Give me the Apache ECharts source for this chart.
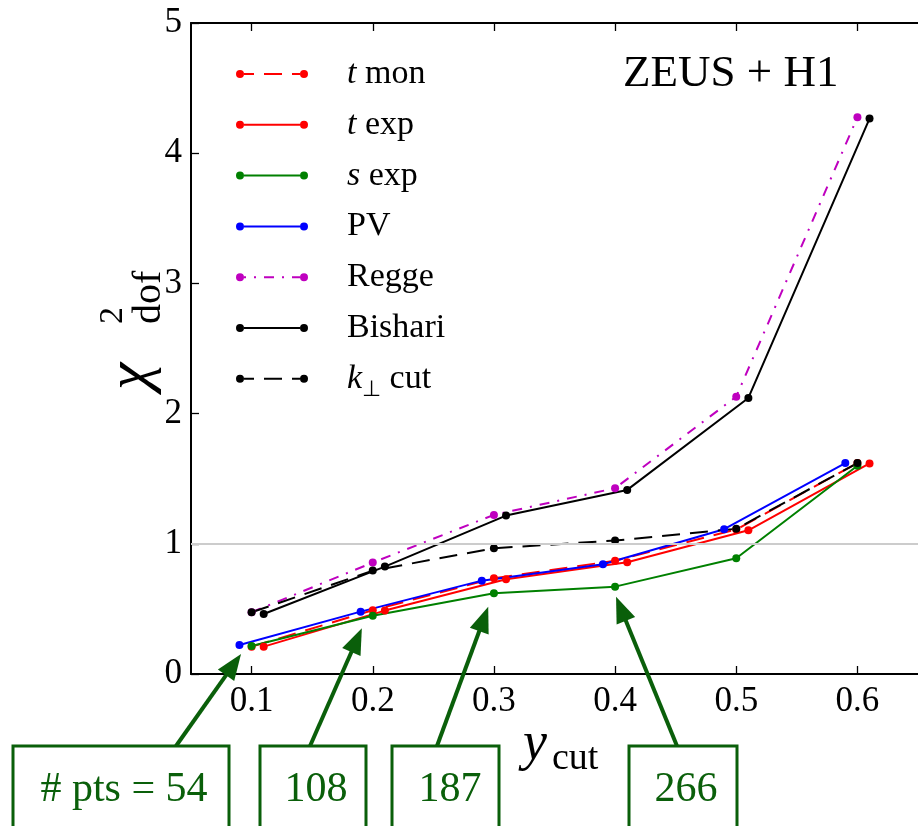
<!DOCTYPE html>
<html>
<head>
<meta charset="utf-8">
<script src="https://cdn.jsdelivr.net/npm/echarts@6/dist/echarts.min.js"></script>
<style>
  html, body { margin: 0; padding: 0; background: #ffffff; }
  #chart { width: 918px; height: 826px; }
</style>
</head>
<body>
<div id="chart"></div>
<script>
// y_cut positions; some models are shifted slightly left/right so the points do not overlap
const xTicks = [0.1, 0.2, 0.3, 0.4, 0.5, 0.6];
const xBase  = [0.1, 0.2, 0.3, 0.4, 0.5, 0.6];
const xLeft  = [0.09, 0.19, 0.29, 0.39, 0.49, 0.59];
const xRight = [0.11, 0.21, 0.31, 0.41, 0.51, 0.61];

// chi^2 per degree of freedom for each model
const tMon    = [0.21, 0.49, 0.735, 0.87, 1.11, 1.62];
const tExp    = [0.21, 0.487, 0.728, 0.858, 1.104, 1.617];
const sExp    = [0.215, 0.448, 0.62, 0.671, 0.889, 1.60];
const pv      = [0.223, 0.479, 0.717, 0.843, 1.112, 1.62];
const regge   = [0.474, 0.856, 1.222, 1.427, 2.13, 4.276];
const bishari = [0.461, 0.825, 1.217, 1.414, 2.12, 4.266];
const kPerp   = [0.474, 0.794, 0.966, 1.025, 1.115, 1.62];

const seriesNames = ['t mon', 't exp', 's exp', 'PV', 'Regge', 'Bishari', 'k⊥ cut'];
const refLevel = 1;

// number of data points used at each cut
const ptsLabels = ['# pts = 54', '108', '187', '266'];

const FONT = "'Liberation Serif', 'Times New Roman', serif";
const GREEN = '#0a5f0a';

const pairs = (xs, ys) => xs.map((x, i) => [x, ys[i]]);

const styles = [
  { x: xBase,  y: tMon,    color: '#ff0000', dash: [18, 10] },
  { x: xRight, y: tExp,    color: '#ff0000', dash: null },
  { x: xBase,  y: sExp,    color: '#008000', dash: null },
  { x: xLeft,  y: pv,      color: '#0000ff', dash: null },
  { x: xBase,  y: regge,   color: '#bf00bf', dash: [10, 8, 2, 8] },
  { x: xRight, y: bishari, color: '#000000', dash: null },
  { x: xBase,  y: kPerp,   color: '#000000', dash: [18, 10] }
];

// legend glyph: a short line segment with a dot at each end (72 x 8 box)
function legendIcon(dash) {
  let p = 'M0,4a4,4 0 1,0 8,0a4,4 0 1,0 -8,0Z M64,4a4,4 0 1,0 8,0a4,4 0 1,0 -8,0Z';
  const segs = [];
  if (!dash) {
    segs.push([8, 64]);
  } else {
    let pos = 0, k = 0, on = true;
    while (pos < 68) {
      const len = dash[k % dash.length];
      if (on) {
        const a = Math.max(pos, 8), b = Math.min(pos + len, 64);
        if (b > a) segs.push([a, b]);
      }
      pos += len; k++; on = !on;
    }
  }
  segs.forEach(([a, b]) => {
    p += ` M${a},3 L${b},3 L${b},5 L${a},5 Z`;
  });
  return 'path://' + p;
}

const legendRich = {
  'it':  { fontFamily: FONT, fontSize: 34, fontStyle: 'italic', lineHeight: 44, color: '#000' },
  'sub': { fontFamily: FONT, fontSize: 22, lineHeight: 22, verticalAlign: 'bottom', color: '#000' }
};
function legendText(name) {
  switch (name) {
    case 't mon': return '{it|t} mon';
    case 't exp': return '{it|t} exp';
    case 's exp': return '{it|s} exp';
    case 'k⊥ cut': return '{it|k}{sub|⊥} cut';
    default: return name;
  }
}

const series = styles.map((s, i) => ({
  name: seriesNames[i],
  type: 'line',
  data: pairs(s.x, s.y),
  symbol: 'circle',
  symbolSize: 8,
  showAllSymbol: true,
  z: 3,
  itemStyle: { color: s.color, borderWidth: 0 },
  lineStyle: { color: s.color, width: 2, type: s.dash ? s.dash : 'solid' },
  emphasis: { disabled: true }
}));

// light horizontal guide at chi^2 = 1
series.unshift({
  type: 'line',
  data: [],
  z: 1,
  silent: true,
  markLine: {
    silent: true,
    symbol: 'none',
    label: { show: false },
    lineStyle: { color: '#cccccc', width: 2, type: 'solid' },
    data: [{ yAxis: refLevel }]
  }
});

const axisLineStyle = { color: '#000', width: 2 };
const xAxisCommon = {
  type: 'value',
  min: 0.05,
  max: 0.65,
  splitLine: { show: false },
  axisLine: { show: true, onZero: false, lineStyle: axisLineStyle },
  axisTick: { show: true, inside: true, length: 8, customValues: xTicks, lineStyle: { color: '#000', width: 1.3 } }
};

const chart = echarts.init(document.getElementById('chart'), null, { renderer: 'canvas' });

chart.setOption({
  animation: false,
  backgroundColor: '#ffffff',
  grid: { left: 191, right: -12, top: 23, bottom: 152, containLabel: false },
  xAxis: [
    Object.assign({}, xAxisCommon, {
      position: 'bottom',
      axisLabel: {
        customValues: xTicks,
        formatter: v => v.toFixed(1),
        fontFamily: FONT, fontSize: 35, color: '#000', margin: 10
      }
    }),
    Object.assign({}, xAxisCommon, {
      position: 'top',
      axisLabel: { show: false }
    })
  ],
  yAxis: {
    type: 'value',
    min: 0,
    max: 5,
    interval: 1,
    splitLine: { show: false },
    axisLine: { show: true, onZero: false, lineStyle: axisLineStyle },
    axisTick: { show: true, inside: true, length: 8, lineStyle: { color: '#000', width: 1.3 } },
    axisLabel: { fontFamily: FONT, fontSize: 35, color: '#000', margin: 9 }
  },
  legend: {
    orient: 'vertical',
    left: 231,
    top: 47,
    itemWidth: 72,
    itemHeight: 8,
    itemGap: 6.8,
    selectedMode: false,
    itemStyle: { borderWidth: 0 },
    data: seriesNames.map((n, i) => ({ name: n, icon: legendIcon(styles[i].dash) })),
    formatter: legendText,
    textStyle: {
      fontFamily: FONT, fontSize: 34, lineHeight: 44, color: '#000',
      padding: [0, 0, 0, 34],
      rich: legendRich
    }
  },
  series: series
});

// annotations: axis titles, data-set label, boxes with arrows
const boxes = [
  { left: 13,  right: 229, textX: 124, arrowFrom: 176, tip: [0.0913, 0.154] },
  { left: 260, right: 366, textX: 316, arrowFrom: 310, tip: [0.191, 0.351] },
  { left: 392, right: 499, textX: 450, arrowFrom: 437, tip: [0.2953, 0.517] },
  { left: 629, right: 737, textX: 686, arrowFrom: 677, tip: [0.4008, 0.594] }
];
const boxTop = 746;

const graphics = [];

boxes.forEach((b, i) => {
  const tip = chart.convertToPixel({ gridIndex: 0 }, b.tip);
  const sx = b.arrowFrom, sy = boxTop;
  const dx = tip[0] - sx, dy = tip[1] - sy;
  const L = Math.hypot(dx, dy);
  const ux = dx / L, uy = dy / L;
  const head = 26, half = 10;
  const bx = tip[0] - ux * head, by = tip[1] - uy * head;
  graphics.push({
    type: 'line', z: 10,
    shape: { x1: sx, y1: sy, x2: bx + ux * 2, y2: by + uy * 2 },
    style: { stroke: GREEN, lineWidth: 4 }
  });
  graphics.push({
    type: 'polygon', z: 10,
    shape: { points: [tip, [bx - uy * half, by + ux * half], [bx + uy * half, by - ux * half]] },
    style: { fill: GREEN }
  });
  graphics.push({
    type: 'rect', z: 11,
    shape: { x: b.left, y: boxTop, width: b.right - b.left, height: 120 },
    style: { fill: '#ffffff', stroke: GREEN, lineWidth: 3 }
  });
  graphics.push({
    type: 'text', z: 12,
    x: b.textX, y: 790,
    style: { text: ptsLabels[i], font: `42px ${FONT}`, fill: GREEN, align: 'center', verticalAlign: 'middle' }
  });
});

// data-set label
graphics.push({
  type: 'text', z: 5, x: 623, y: 74,
  style: { text: 'ZEUS + H1', font: `45px ${FONT}`, fill: '#000', align: 'left', verticalAlign: 'middle' }
});

// x-axis title: y_cut
graphics.push({
  type: 'text', z: 5, x: 523, y: 745,
  style: { text: 'y', font: `italic 54px ${FONT}`, fill: '#000', align: 'left', verticalAlign: 'middle' }
});
graphics.push({
  type: 'text', z: 5, x: 552, y: 759,
  style: { text: 'cut', font: `38px ${FONT}`, fill: '#000', align: 'left', verticalAlign: 'middle' }
});

// y-axis title: chi^2_dof, rotated
graphics.push({
  type: 'group', x: 132, y: 390, rotation: Math.PI / 2,
  children: [
    { type: 'text', x: 0, y: 0, style: { text: 'χ', font: `italic 62px ${FONT}`, fill: '#000', align: 'left', verticalAlign: 'middle' } },
    { type: 'text', x: 66, y: -19, style: { text: '2', font: `34px ${FONT}`, fill: '#000', align: 'left', verticalAlign: 'middle' } },
    { type: 'text', x: 66, y: 17, style: { text: 'dof', font: `40px ${FONT}`, fill: '#000', align: 'left', verticalAlign: 'middle' } }
  ]
});

chart.setOption({ graphic: graphics });
</script>
</body>
</html>
